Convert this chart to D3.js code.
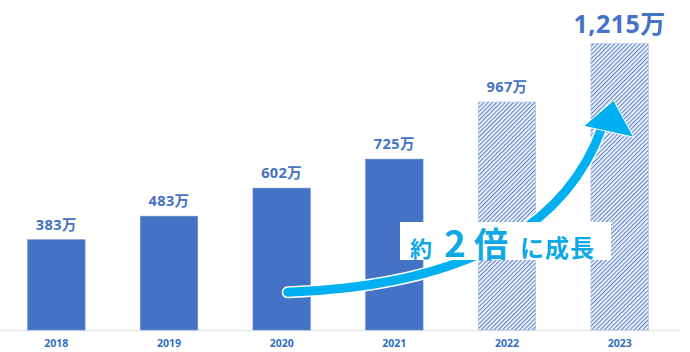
<!DOCTYPE html>
<html lang="ja">
  <head>
    <meta charset="utf-8" />
    <title>約2倍に成長</title>
    <script src="https://d3js.org/d3.v7.min.js"></script>
    <style>
      body { margin: 0; background: #fff; }
      svg { display: block; }
      .val { font-family: "Open Sans", "Noto Sans CJK JP", sans-serif; font-weight: 700; fill: #4472c4; }
      .year { font-family: "Open Sans", "Noto Sans CJK JP", sans-serif; font-weight: 700; font-size: 10.5px; fill: #2f6fc0; }
      .note { font-family: "Noto Sans CJK JP", sans-serif; font-weight: 700; fill: #0ea8e6; }
    </style>
  </head>
  <body>
    <svg width="690" height="352"></svg>
    <script>
      const years = ["2018", "2019", "2020", "2021", "2022", "2023"];
      const values = [383, 483, 602, 725, 967, 1215];
      const valueLabels = ["383万", "483万", "602万", "725万", "967万", "1,215万"];
      const projected = [false, false, false, false, true, true];

      const baseline = 330;
      const blue = "#4472c4";
      const cyan = "#00b0f0";

      const svg = d3.select("svg");

      const x = d3.scaleBand().domain(years).range([0, 676]).paddingInner(0.49).paddingOuter(0.245);
      const y = d3.scaleLinear().domain([0, 1400]).range([baseline, 0]);

      const defs = svg.append("defs");
      const pat = defs.append("pattern")
        .attr("id", "hatch")
        .attr("patternUnits", "userSpaceOnUse")
        .attr("width", 3)
        .attr("height", 3)
        .attr("patternTransform", "rotate(45)");
      pat.append("rect").attr("width", 3).attr("height", 3).attr("fill", "#fff");
      pat.append("line")
        .attr("x1", 0.7).attr("y1", 0).attr("x2", 0.7).attr("y2", 3)
        .attr("stroke", blue).attr("stroke-width", 1.1);

      // axis line
      svg.append("line")
        .attr("x1", 0).attr("x2", 680)
        .attr("y1", baseline + 0.5).attr("y2", baseline + 0.5)
        .attr("stroke", "#e6e6e6").attr("stroke-width", 1.5);

      const data = years.map((yr, i) => ({ yr, v: values[i], label: valueLabels[i], proj: projected[i] }));

      svg.append("g").selectAll("rect")
        .data(data)
        .join("rect")
        .attr("x", d => x(d.yr))
        .attr("y", d => y(d.v))
        .attr("width", x.bandwidth())
        .attr("height", d => baseline - y(d.v))
        .attr("fill", d => d.proj ? "url(#hatch)" : blue)
        .attr("stroke", d => d.proj ? "#a9bde3" : "#6a8fd2")
        .attr("stroke-width", 0.6);

      svg.append("g").selectAll("text")
        .data(data)
        .join("text")
        .attr("class", "val")
        .attr("x", d => x(d.yr) + x.bandwidth() / 2)
        .attr("y", (d, i) => y(d.v) - (i === 5 ? 11 : 10))
        .attr("text-anchor", "middle")
        .attr("font-size", (d, i) => i === 5 ? "25px" : "14.5px")
        .attr("letter-spacing", (d, i) => i === 5 ? "0.5px" : "0.4px")
        .text(d => d.label);

      svg.append("g").selectAll("text")
        .data(data)
        .join("text")
        .attr("class", "year")
        .attr("x", d => x(d.yr) + x.bandwidth() / 2)
        .attr("y", 347)
        .attr("text-anchor", "middle")
        .text(d => d.yr);

      // growth arrow
      const x0 = x("2020") + x.bandwidth() / 2 + 6;
      const tip = [x("2023") + x.bandwidth() / 2 - 6, y(975)];
      const p0 = [x0, y(160)];
      const p1 = [tip[0] - 12, tip[1] + 28];
      const curve = `M${p0[0]},${p0[1]} C${p0[0] + 160},${p0[1] - 6} ${p1[0] - 40},${p1[1] + 110} ${p1[0]},${p1[1]}`;

      svg.append("path").attr("d", curve)
        .attr("fill", "none").attr("stroke", "#fff").attr("stroke-width", 12).attr("stroke-linecap", "round");
      svg.append("path").attr("d", curve)
        .attr("fill", "none").attr("stroke", cyan).attr("stroke-width", 9).attr("stroke-linecap", "round");

      const head = [[tip[0], tip[1]], [tip[0] - 30, tip[1] + 26], [tip[0] + 20, tip[1] + 37]];
      svg.append("path")
        .attr("d", "M" + head.map(p => p.join(",")).join("L") + "Z")
        .attr("fill", cyan).attr("stroke", "#fff").attr("stroke-width", 1);

      // label box
      svg.append("rect").attr("x", 400).attr("y", 222).attr("width", 211).attr("height", 38).attr("fill", "#fff");
      const note = svg.append("text").attr("class", "note").attr("y", 257);
      note.append("tspan").attr("x", 410).attr("font-size", "22px").text("約");
      note.append("tspan").attr("x", 444).attr("font-size", "37px").text("2");
      note.append("tspan").attr("x", 474).attr("font-size", "34px").text("倍");
      note.append("tspan").attr("x", 520).attr("font-size", "24px").attr("letter-spacing", "1px").text("に成長");
    </script>
  </body>
</html>
